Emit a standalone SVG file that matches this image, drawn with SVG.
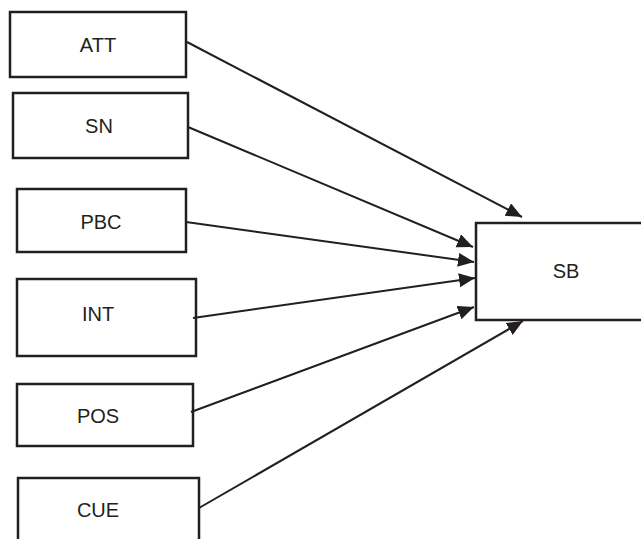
<svg xmlns="http://www.w3.org/2000/svg" width="641" height="539" viewBox="0 0 641 539">
<defs>
<style>
.box{fill:#fff;stroke:#231f20;stroke-width:2.5}
.lbl{font-family:"Liberation Sans",Arial,sans-serif;font-size:20px;fill:#231f20;text-anchor:middle}
.edge{stroke:#231f20;stroke-width:2;fill:none;marker-end:url(#ah)}
</style>
<marker id="ah" markerUnits="userSpaceOnUse" markerWidth="18" markerHeight="16" refX="16" refY="7" orient="auto">
<path d="M0,0 L16,7 L0,14 z" fill="#231f20"/>
</marker>
</defs>
<rect width="641" height="539" fill="#fff"/>
<g id="ATT"><rect class="box" x="10" y="12" width="176" height="65"/><text class="lbl" x="98" y="52">ATT</text></g>
<g id="SN"><rect class="box" x="13" y="93" width="175" height="65"/><text class="lbl" x="99" y="133">SN</text></g>
<g id="PBC"><rect class="box" x="17" y="189" width="169" height="63"/><text class="lbl" x="101" y="229">PBC</text></g>
<g id="INT"><rect class="box" x="17" y="279" width="179" height="77"/><text class="lbl" x="98" y="321">INT</text></g>
<g id="POS"><rect class="box" x="17" y="384" width="176" height="62"/><text class="lbl" x="98" y="423">POS</text></g>
<g id="CUE"><rect class="box" x="18" y="478" width="181" height="70"/><text class="lbl" x="98" y="517">CUE</text></g>
<g id="SB"><rect class="box" x="476" y="223" width="170" height="97"/><text class="lbl" x="566" y="278">SB</text></g>
<g id="connectors">
<line class="edge" x1="187" y1="42" x2="522" y2="217"/>
<line class="edge" x1="188" y1="127" x2="473" y2="247"/>
<line class="edge" x1="186" y1="222" x2="474" y2="262"/>
<line class="edge" x1="193" y1="318" x2="475" y2="278"/>
<line class="edge" x1="191" y1="412" x2="474" y2="307"/>
<line class="edge" x1="199" y1="508" x2="523" y2="321"/>
</g>
</svg>
